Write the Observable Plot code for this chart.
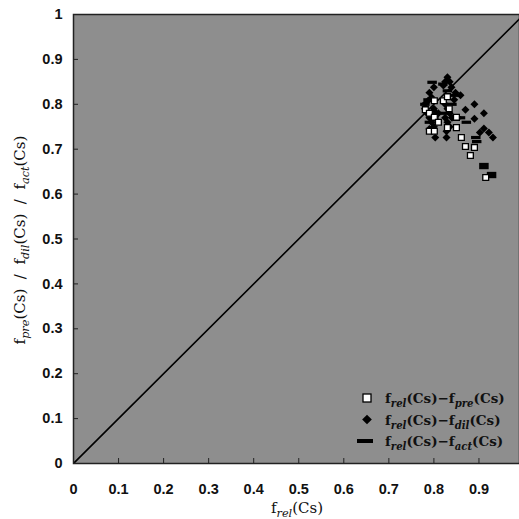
<!DOCTYPE html>
<html>
<head>
<meta charset="utf-8">
<script src="https://cdn.jsdelivr.net/npm/d3@7"></script>
<script src="https://cdn.jsdelivr.net/npm/@observablehq/plot@0.6"></script>
<style>
  html, body { margin: 0; padding: 0; background: #fff; overflow: hidden; }
  #chart { position: relative; width: 519px; height: 519px; }
  .lab { font-family: "DejaVu Serif", "Liberation Serif", serif; fill: #111; }
</style>
</head>
<body>
<div id="chart"></div>
<script>
// f_rel(Cs) vs f_pre(Cs)  (open squares)
const preX = [0.801,0.821,0.830,0.781,0.790,0.801,0.810,0.790,0.801,0.830,0.850,0.850,0.861,0.870,0.890,0.881,0.915,0.834];
const preY = [0.808,0.808,0.817,0.788,0.780,0.771,0.760,0.740,0.740,0.748,0.748,0.771,0.726,0.706,0.704,0.686,0.637,0.790];
// f_rel(Cs) vs f_dil(Cs)  (filled diamonds)
const dilX = [0.781,0.787,0.790,0.795,0.780,0.785,0.790,0.795,0.800,0.800,0.805,0.800,0.803,0.810,0.790,
              0.830,0.821,0.839,0.825,0.835,0.848,0.859,0.828,0.825,0.830,0.835,0.825,0.830,0.835,0.828,0.840,0.845,
              0.870,0.890,0.911,0.890,0.911,0.902,0.922,0.931];
const dilY = [0.802,0.808,0.826,0.815,0.790,0.780,0.770,0.760,0.838,0.790,0.780,0.750,0.726,0.780,0.745,
              0.860,0.842,0.838,0.850,0.850,0.826,0.820,0.726,0.800,0.790,0.780,0.770,0.760,0.750,0.740,0.770,0.810,
              0.788,0.800,0.780,0.768,0.746,0.737,0.737,0.726];
// f_rel(Cs) vs f_act(Cs)  (bars)
const actX = [0.796,0.787,0.780,0.790,0.859,0.872,0.893,0.895,0.911,0.911,0.928,0.928,0.820,0.848,0.825,0.850,0.840,0.830,0.800];
const actY = [0.849,0.810,0.800,0.760,0.770,0.760,0.726,0.717,0.666,0.659,0.646,0.639,0.845,0.820,0.780,0.770,0.800,0.830,0.770];
const xTicks = [0,0.1,0.2,0.3,0.4,0.5,0.6,0.7,0.8,0.9];
const yTicks = [0,0.1,0.2,0.3,0.4,0.5,0.6,0.7,0.8,0.9,1];
const diagonal = [0, 1];

const pre = preX.map((x,i)=>({x, y: preY[i]}));
const dil = dilX.map((x,i)=>({x, y: dilY[i]}));
const act = actX.map((x,i)=>({x, y: actY[i]}));

const dash = { draw(ctx, size) { const w = 9.5, h = 3.2; ctx.rect(-w/2, -h/2, w, h); } };
const blank = () => "";

const plot = Plot.plot({
  width: 519, height: 519,
  marginLeft: 73, marginRight: 0, marginTop: 14, marginBottom: 56,
  x: { domain: [0, 0.99], ticks: xTicks, label: null },
  y: { domain: [0, 1], ticks: yTicks, label: null },
  style: { fontFamily: "Liberation Sans, Arial, sans-serif", background: "transparent" },
  marks: [
    Plot.frame({ fill: "#8e8e8e" }),
    Plot.line(diagonal, { x: d=>d, y: d=>d, stroke: "#000", strokeWidth: 1.6, clip: true }),
    Plot.dot(dil, { x: "x", y: "y", symbol: "diamond2", r: 3.6, fill: "#000", stroke: "none" }),
    Plot.dot(act, { x: "x", y: "y", symbol: dash, r: 4, fill: "#000", stroke: "none" }),
    Plot.dot(pre, { x: "x", y: "y", symbol: "square", r: 3.3, fill: "#fff", stroke: "#000", strokeWidth: 1.3 }),
    Plot.axisX(xTicks, { tickSize: -5, tickFormat: blank, label: null, stroke: "#222" }),
    Plot.axisY(yTicks, { tickSize: -5, tickFormat: blank, label: null, stroke: "#222" }),
    Plot.axisX(xTicks, { tickSize: 0, tickPadding: 20, fontSize: 14.5, fontWeight: "bold", fill: "#111", tickFormat: d => String(d), label: null }),
    Plot.axisY(yTicks, { tickSize: 0, tickPadding: 11, fontSize: 14.5, fontWeight: "bold", fill: "#111", tickFormat: d => String(d), label: null }),
    Plot.frame({ stroke: "#222", strokeWidth: 1.5 })
  ]
});
document.getElementById("chart").appendChild(plot);

const svg = d3.select(plot);
function fText(g, sub) {
  g.append("tspan").text("f");
  g.append("tspan").attr("font-style", "italic").attr("font-size", "0.75em").attr("dy", 4).text(sub);
  g.append("tspan").attr("dy", -4).text("(Cs)");
}
// x title
const xt = svg.append("text").attr("class", "lab").attr("x", 297).attr("y", 513)
  .attr("text-anchor", "middle").attr("font-size", 15);
fText(xt, "rel");
// y title
const yt = svg.append("text").attr("class", "lab").attr("transform", "translate(25,240) rotate(-90)")
  .attr("text-anchor", "middle").attr("font-size", 15);
fText(yt, "pre"); yt.append("tspan").text("  /  ");
fText(yt, "dil"); yt.append("tspan").text("  /  ");
fText(yt, "act");

// legend
const legend = [
  { sym: "square", sub: "pre" },
  { sym: "diamond", sub: "dil" },
  { sym: "dash", sub: "act" }
];
legend.forEach((d, i) => {
  const cy = 398 + i * 21.5;
  if (d.sym === "square") svg.append("rect").attr("x", 363).attr("y", cy - 4).attr("width", 8).attr("height", 8)
      .attr("fill", "#fff").attr("stroke", "#000").attr("stroke-width", 1.3);
  if (d.sym === "diamond") svg.append("path").attr("d", d3.symbol(d3.symbolDiamond2, 60)()).attr("transform", `translate(367,${cy})`).attr("fill", "#000");
  if (d.sym === "dash") svg.append("rect").attr("x", 357).attr("y", cy - 2).attr("width", 16).attr("height", 4).attr("fill", "#000");
  const t = svg.append("text").attr("class", "lab").attr("x", 385).attr("y", cy + 5)
    .attr("text-anchor", "start").attr("font-size", 13.5).attr("font-weight", "bold");
  fText(t, "rel");
  t.append("tspan").text("\u2212");
  fText(t, d.sub);
});
</script>
</body>
</html>
